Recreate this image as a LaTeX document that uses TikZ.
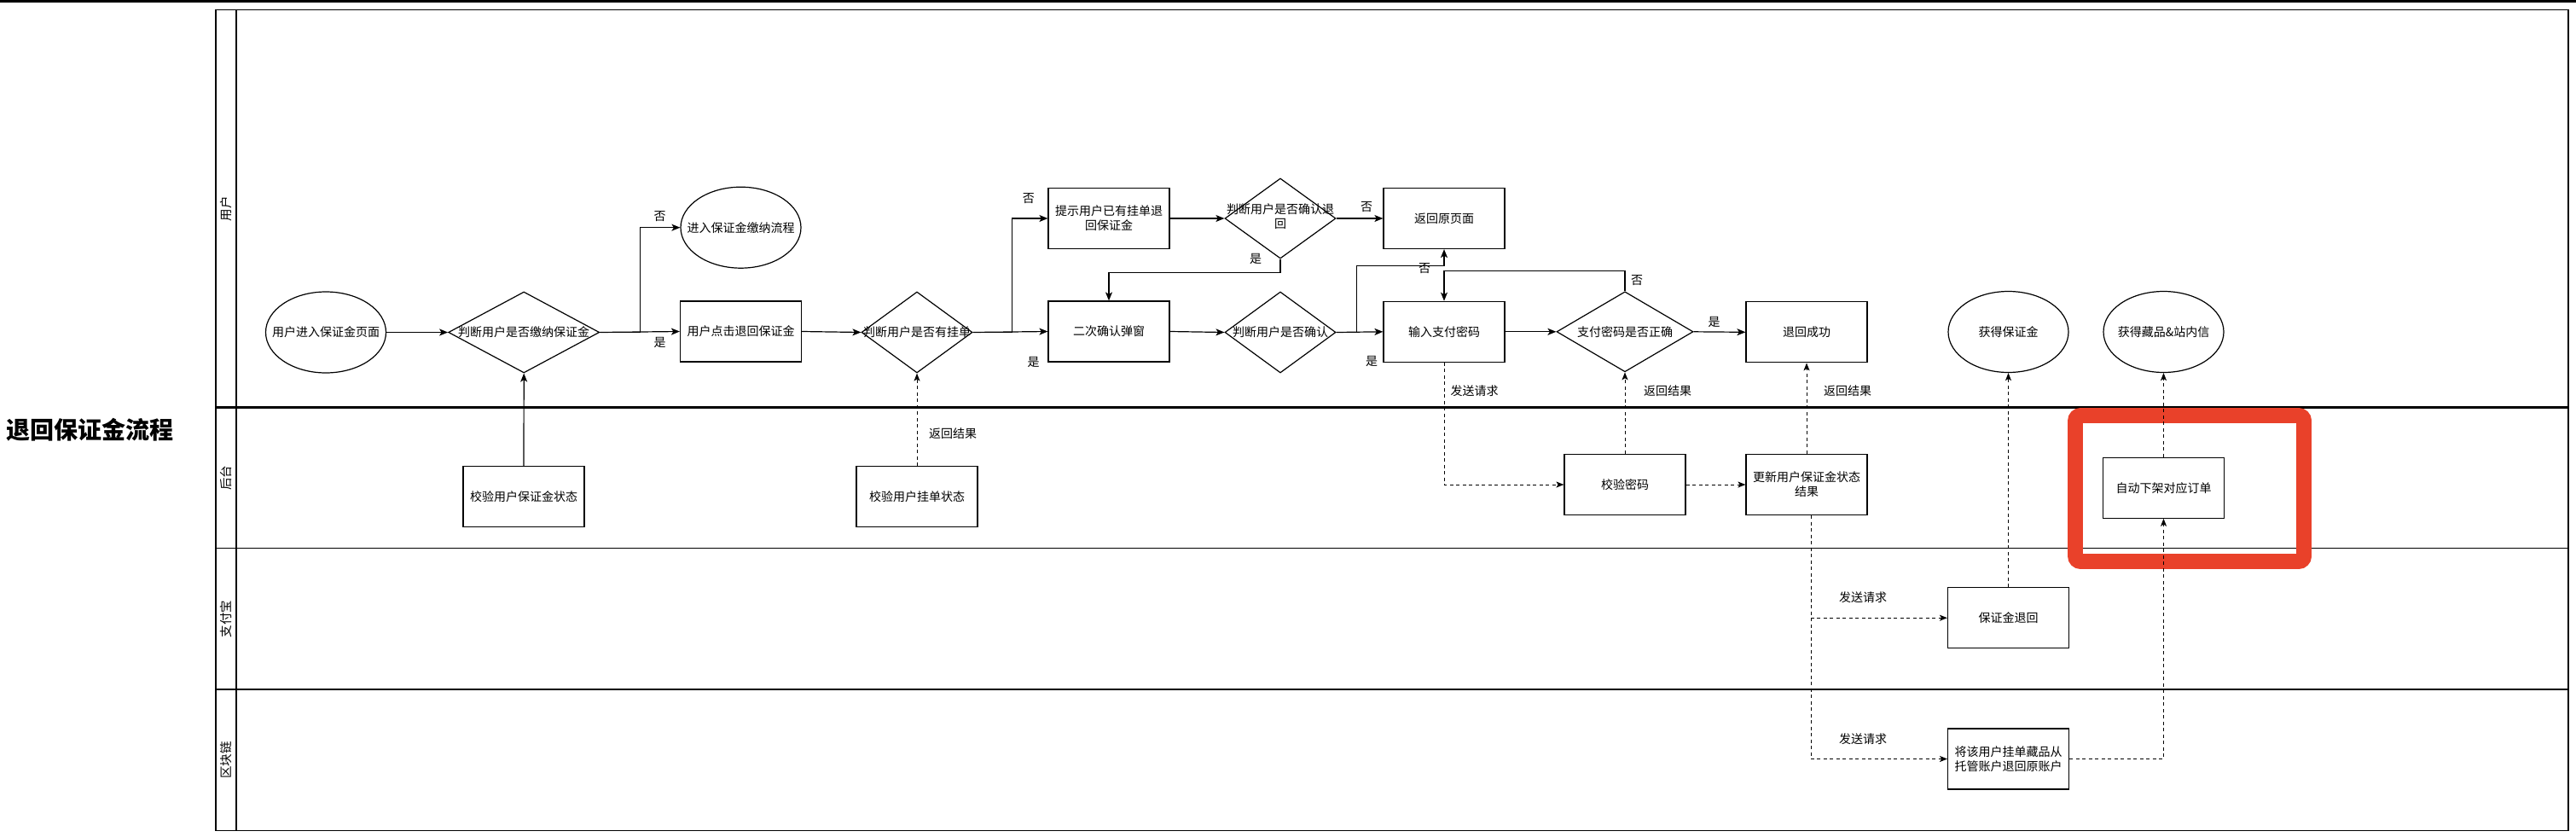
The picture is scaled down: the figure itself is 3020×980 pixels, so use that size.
\documentclass[tikz,border=0pt]{standalone}
\usepackage{fontspec}
\setmainfont{Noto Sans CJK SC}
\usetikzlibrary{shapes.geometric,arrows.meta}
\definecolor{annot}{HTML}{E9412A}
\newcommand{\zbox}[1]{\makebox[0pt]{#1}}
\begin{document}
\begin{tikzpicture}[x=1pt,y=-1pt,
  every node/.style={font=\fontsize{14}{17}\selectfont, inner sep=0pt},
  box/.style={draw, line width=1.2pt, minimum width=142pt, minimum height=71pt, align=center},
  ell/.style={draw, ellipse, line width=1.2pt, minimum width=141pt, minimum height=95pt},
  dia/.style={draw, diamond, line width=1.2pt, minimum height=95pt},
  lbl/.style={font=\fontsize{14}{17}\selectfont},
  lane/.style={rotate=90, font=\fontsize{14.5}{17}\selectfont},
  flow/.style={line width=1.2pt, -{Stealth[length=10pt,width=8pt,inset=2.5pt]}},
  dflow/.style={line width=1pt, dash pattern=on 4pt off 3.5pt, -{Stealth[length=9pt,width=7pt,inset=2.2pt]}},
]
\useasboundingbox (0,0) rectangle (3020,980);
\fill[white] (0,0) rectangle (3020,980);
\fill[black] (0,0) rectangle (3020,2.7);

% title
\node[font=\fontsize{28}{34}\selectfont\bfseries] (title) at (105.5,504) {退回保证金流程};

% pool and lanes
\draw[line width=1.2pt] (253,11.5) rectangle (3011,973.5);
\draw[line width=1.2pt] (277,11.5) -- (277,973.5);
\draw[line width=2.4pt] (253,477.5) -- (3011,477.5);
\draw[line width=1.5pt] (253,642.7) -- (3011,642.7);
\draw[line width=1.5pt] (253,808) -- (3011,808);
\node[lane] (lu) at (265,244.5) {用户};
\node[lane] (lb) at (265,560) {后台};
\node[lane] (lz) at (265,725.5) {支付宝};
\node[lane] (lq) at (265,891) {区块链};

% highlight
\draw[annot, line width=17.7pt, rounded corners=6pt] (2433,487) rectangle (2701,658);

% user lane
\node[ell] (e1) at (382,389.5) {\zbox{用户进入保证金页面}};
\node[dia, minimum width=177pt] (d1) at (614.2,389.5) {\zbox{判断用户是否缴纳保证金}};
\node[ell] (e2) at (868.5,266.7) {\zbox{进入保证金缴纳流程}};
\node[box] (b1) at (868.5,388.5) {用户点击退回保证金};
\node[dia, minimum width=130pt] (d2) at (1075,389.5) {\zbox{判断用户是否有挂单}};
\node[box] (b2) at (1300,256) {提示用户已有挂单退\\回保证金};
\node[box] (b3) at (1300,388.5) {二次确认弹窗};
\node[dia, minimum width=130pt, minimum height=94pt] (d3) at (1501,256) {\zbox{\begin{tabular}{@{}c@{}}判断用户是否确认退\\回\end{tabular}}};
\node[dia, minimum width=130pt] (d4) at (1501,389.5) {\zbox{判断用户是否确认}};
\node[box] (b4) at (1693,256) {返回原页面};
\node[box] (b5) at (1693,388.8) {输入支付密码};
\node[dia, minimum width=160pt, minimum height=94pt] (d5) at (1905,388.8) {\zbox{支付密码是否正确}};
\node[box] (b6) at (2118,389.3) {退回成功};
\node[ell] (e3) at (2354.5,389) {\zbox{获得保证金}};
\node[ell] (e4) at (2536.5,389) {\zbox{获得藏品\&站内信}};

% backend lane
\node[box] (b7) at (614,582.2) {校验用户保证金状态};
\node[box] (b8) at (1075,582.2) {校验用户挂单状态};
\node[box] (b9) at (1905,568) {校验密码};
\node[box] (b10) at (2118,568) {更新用户保证金状态\\结果};
\node[box] (b11) at (2536.5,571.7) {自动下架对应订单};

% alipay lane
\node[box] (b12) at (2354.5,724.2) {保证金退回};

% blockchain lane
\node[box] (b13) at (2354.6,889.5) {将该用户挂单藏品从\\托管账户退回原账户};

% connectors
\draw[flow] (e1.east) -- (d1.west);
\draw[flow] (d1.east) -- (b1.west);
\draw[flow] (d1.east) -- ++(47,0) |- (e2.west);
\draw[flow] (b7.north) -- (d1.south);
\draw[flow] (b1.east) -- (d2.west);
\draw[flow] (d2.east) -- ++(46,0) |- (b2.west);
\draw[flow] (d2.east) -- (b3.west);
\draw[dflow] (b8.north) -- (d2.south);
\draw[flow] (b2.east) -- (d3.west);
\draw[flow] (d3.south) -- ++(0,15.5) -| (b3.north);
\draw[flow] (d3.east) -- (b4.west);
\draw[flow] (b3.east) -- (d4.west);
\draw[flow] (d4.east) -- (b5.west);
\draw[flow] (d4.east) -- ++(24,0) |- ([yshift=-19pt]b4.south) -- (b4.south);
\draw[flow] (b5.east) -- (d5.west);
\draw[flow] (d5.north) -- ++(0,-23.4) -| (b5.north);
\draw[flow] (d5.east) -- (b6.west);
\draw[dflow] (b5.south) |- (b9.west);
\draw[dflow] (b9.north) -- (d5.south);
\draw[dflow] (b9.east) -- (b10.west);
\draw[dflow] (b10.north) -- (b6.south);
\draw[dflow] ([xshift=5pt]b10.south) |- (b12.west);
\draw[dflow] ([xshift=5pt]b10.south) |- (b13.west);
\draw[dflow] (b12.north) -- (e3.south);
\draw[dflow] (b13.east) -| (b11.south);
\draw[dflow] (b11.north) -- (e4.south);

% labels
\node[lbl] (t1) at (773.5,254) {否};
\node[lbl] (t2) at (773.5,401.7) {是};
\node[lbl] (t3) at (1205.8,232.5) {否};
\node[lbl] (t4) at (1211.6,424.7) {是};
\node[lbl] (t5) at (1117,508) {返回结果};
\node[lbl] (t6) at (1472,303.5) {是};
\node[lbl] (t7) at (1602,242.5) {否};
\node[lbl] (t8) at (1670,315) {否};
\node[lbl] (t9) at (1608,423.5) {是};
\node[lbl] (t10) at (1919,329) {否};
\node[lbl] (t11) at (2009.6,377.5) {是};
\node[lbl] (t12) at (1728.6,458) {发送请求};
\node[lbl] (t13) at (1955,458) {返回结果};
\node[lbl] (t14) at (2166,458) {返回结果};
\node[lbl] (t15) at (2184,700) {发送请求};
\node[lbl] (t16) at (2184,866) {发送请求};
\end{tikzpicture}
\end{document}
